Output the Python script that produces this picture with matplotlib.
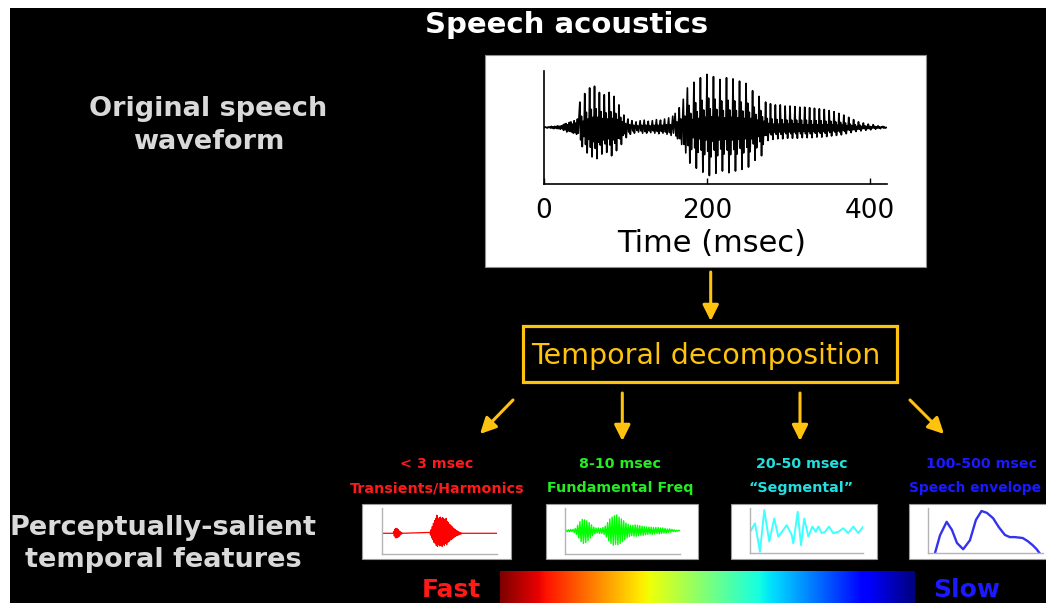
import matplotlib
matplotlib.use("Agg")
import matplotlib.pyplot as plt
import numpy as np
from matplotlib.patches import Rectangle

plt.rcParams["font.family"] = ["DejaVu Sans"]

W, H = 1046, 603

# original speech waveform, one sample per msec
wave_step_ms = 1.0
wave = [
    # 0-22 ms, near silence
    0, 0, .01, 0, -.01, .01, 0, .01, -.01, .02, -.01, .01, -.02, .02, -.01, .02,
    -.02, .03, -.02, .02, -.03, .03, -.02,
    # 23-43 ms
    .04, -.05, .06, -.04, .07, -.08, .05, -.06, .09, -.07, .1, -.08, .06, -.1,
    .12, -.09, .08, -.12, .15, -.1, .2,
    # 44-97 ms, first voiced burst
    .45, -.22, .2, -.34, .11, -.16,
    .6, -.3, .27, -.45, .15, -.21,
    .7, -.35, .32, -.52, .18, -.25,
    .73, -.37, .33, -.55, .18, -.26,
    .62, -.31, .28, -.47, .16, -.22,
    .58, -.29, .26, -.44, .15, -.2,
    .62, -.31, .28, -.5, .16, -.22,
    .55, -.28, .25, -.41, .14, -.19,
    .4, -.2, .18, -.3, .1, -.14,
    # 98-160 ms, low level
    .22, -.11, .07, -.18, .04,
    .15, -.08, .05, -.12, .03,
    .12, -.06, .04, -.1, .02,
    .1, -.05, .03, -.08, .02,
    .12, -.06, .04, -.1, .02,
    .13, -.07, .04, -.1, .03,
    .11, -.06, .03, -.09, .02,
    .12, -.06, .04, -.1, .02,
    .14, -.07, .04, -.11, .03,
    .13, -.07, .04, -.1, .03,
    .15, -.08, .05, -.12, .03,
    .17, -.09, .05, -.14, .03,
    .2, -.1, .08,
    # 161-175 ms, onset
    .25, -.15, .1, -.2, .05, .35, -.2, .15, -.3, .1, .5, -.3, .2, -.45, .15,
    # 176-271 ms, main vowel
    .7, -.32, .39, -.63, .25, -.39, .14, -.18,
    .8, -.36, .44, -.72, .28, -.44, .16, -.2,
    .88, -.4, .48, -.79, .31, -.48, .18, -.22,
    .94, -.42, .52, -.85, .33, -.52, .19, -.24,
    .9, -.4, .5, -.81, .32, -.5, .18, -.22,
    .85, -.38, .47, -.77, .3, -.47, .17, -.21,
    .88, -.4, .48, -.8, .31, -.48, .18, -.22,
    .86, -.39, .47, -.77, .3, -.47, .17, -.21,
    .82, -.37, .45, -.74, .29, -.45, .16, -.2,
    .78, -.35, .43, -.7, .27, -.43, .16, -.2,
    .65, -.29, .36, -.58, .23, -.36, .13, -.16,
    .55, -.25, .3, -.5, .19, -.3, .11, -.14,
    # 272-385 ms, tail
    .45, -.14, .16, -.23, .07, -.09,
    .42, -.13, .15, -.21, .06, -.08,
    .4, -.12, .14, -.2, .06, -.08,
    .4, -.12, .14, -.2, .06, -.08,
    .38, -.11, .13, -.19, .06, -.08,
    .38, -.11, .13, -.19, .06, -.08,
    .37, -.11, .13, -.19, .06, -.07,
    .36, -.11, .13, -.18, .05, -.07,
    .36, -.11, .13, -.18, .05, -.07,
    .35, -.11, .12, -.18, .05, -.07,
    .34, -.1, .12, -.17, .05, -.07,
    .33, -.1, .12, -.17, .05, -.07,
    .32, -.1, .11, -.16, .05, -.06,
    .3, -.09, .11, -.15, .05, -.06,
    .28, -.08, .1, -.14, .04, -.06,
    .25, -.08, .09, -.13, .04, -.05,
    .22, -.07, .08, -.11, .03, -.04,
    .18, -.05, .06, -.09, .03, -.04,
    .14, -.04, .05, -.07, .02, -.03,
    # 386-421 ms, decay
    .1, -.03, .04, -.06, .02, -.02, .08, -.02, .03, -.05, .02, -.02,
    .06, -.02, .02, -.04, .01, -.01, .05, -.01, .02, -.03, .01, -.01,
    .03, -.01, .01, -.02, .01, 0, .02, -.01, .01, -.01, 0, 0,
]
wave_ticks = [0, 200, 400]

# < 3 msec band (x in % of panel width)
red_blob = [0, .04, -.06, .09, -.1, .11, -.1, .1, -.09, .08, -.07, .05, -.04,
            .03, -.02, .01, 0]
red_burst = [.02, -.04, .08, -.1, .15, -.14, .22, -.2, .28, -.22, .33, -.27, .4,
             -.29, .3, -.25, .34, -.28, .36, -.26, .33, -.29, .35, -.24, .32, -.27,
             .3, -.22, .33, -.25, .26, -.2, .24, -.18, .2, -.15, .18, -.14, .15,
             -.12, .12, -.1, .1, -.08, .08, -.06, .06, -.05, .05, -.04, .03, -.03,
             .02, -.02, .01, -.01, 0]

# 8-10 msec band, one value per % of panel width
green_wave = [.01, -.02, .02, -.02, .03, -.02, .03, -.04, .05,
              -.08, .12, -.16, .2, -.24, .25, -.28, .24, -.26, .22, -.22, .18, -.16,
              .13, -.11, .08, -.07,
              .06, -.05, .06, -.06, .05, -.06, .07, -.08, .1,
              -.14, .18, -.22, .26, -.28, .3, -.32, .33, -.3, .35, -.31, .3, -.28,
              .26, -.24, .22, -.2, .17, -.16, .14, -.13, .12, -.11, .12,
              -.12, .13, -.12, .12, -.11, .11, -.1, .1, -.1, .09, -.09, .08, -.08,
              .08, -.07, .08, -.08, .07, -.07, .07, -.06, .07, -.07, .06, -.06,
              .06, -.05, .05, -.05, .04, -.04,
              .04, -.03, .03, -.02, .02, -.02, .01, -.01, .01, 0]

# 20-50 msec band
cyan_x = [0, 4.4, 8.8, 12.6, 17.0, 21.4, 25.0, 32.4, 36.8, 38.2, 42.1, 45.0, 47.9,
          51.5, 55.0, 58.0, 60.3, 63.3, 66.2, 69.7, 73.5, 77.9, 82.3, 86.7, 91.2,
          95.6, 100]
cyan_y = [.47, .66, .02, .96, .25, .77, .36, .62, .40, .21, .92, .17, .77, .36, .59,
          .47, .59, .44, .47, .59, .44, .47, .55, .44, .59, .44, .59]

# 100-500 msec band
blue_x = [5.8, 10.2, 16.0, 20.6, 25.0, 30.4, 36.3, 41.5, 46.4, 51.0, 56.5, 61.5,
          66.7, 71.0, 75.4, 82.3, 86.7, 91.0, 94.5, 97.1]
blue_y = [0, .40, .70, .52, .23, .09, .29, .74, .94, .90, .78, .58, .41, .36, .36,
          .34, .27, .18, .09, 0]

band_ranges = ["< 3 msec", "8-10 msec", "20-50 msec", "100-500 msec"]
band_names = ["Transients/Harmonics", "Fundamental Freq", "\u201cSegmental\u201d",
              "Speech envelope"]
band_text_colors = ["#ff1a1a", "#22ee22", "#22e0e0", "#1a1aff"]

gold = "#ffc20e"
grey_txt = "#d9d9d9"

fig = plt.figure(figsize=(W / 100, H / 100), dpi=100, facecolor="white")


def px_axes(x0, y0, x1, y1):
    return fig.add_axes([x0 / W, 1 - y1 / H, (x1 - x0) / W, (y1 - y0) / H])


# background layer in pixel coordinates
bg = fig.add_axes([0, 0, 1, 1])
bg.set_xlim(0, W)
bg.set_ylim(H, 0)
bg.axis("off")
bg.add_patch(Rectangle((10, 8), W - 10, H - 8, facecolor="black", edgecolor="none"))

bg.text(567, 33, "Speech acoustics", color="white", fontsize=21, fontweight="bold",
        ha="center", va="baseline")
bg.text(208, 116.5, "Original speech", color=grey_txt, fontsize=19.5,
        fontweight="bold", ha="center", va="baseline")
bg.text(209, 149, "waveform", color=grey_txt, fontsize=19.5, fontweight="bold",
        ha="center", va="baseline")
bg.text(163, 535, "Perceptually-salient", color=grey_txt, fontsize=19.5,
        fontweight="bold", ha="center", va="baseline")
bg.text(163, 567, "temporal features", color=grey_txt, fontsize=19.5,
        fontweight="bold", ha="center", va="baseline")

# waveform card
bg.add_patch(Rectangle((485, 55), 441, 212, facecolor="white", edgecolor="#909090",
                       lw=0.8))
bg.text(712, 251.5, "Time (msec)", color="black", fontsize=22, ha="center",
        va="baseline")

# decomposition box and arrows
bg.add_patch(Rectangle((523, 326), 374, 56, facecolor="none", edgecolor=gold, lw=2.3))
bg.text(706, 364, "Temporal decomposition", color=gold, fontsize=20.5, ha="center",
        va="baseline")
arrows = [((710.7, 272), (710.7, 321)),
          ((513, 400), (480, 434)),
          ((622.3, 393), (622.3, 441)),
          ((800, 393), (800, 441)),
          ((910, 400), (944, 434))]
for tail, head in arrows:
    bg.annotate("", xy=head, xytext=tail,
                arrowprops=dict(arrowstyle="-|>,head_length=0.6,head_width=0.3",
                                color=gold, lw=2.2, mutation_scale=16,
                                shrinkA=0, shrinkB=0))

# band labels
label_x = [436.7, 620, 802, 982]
name_x = [436.7, 620, 801, 909]
for i, (rng, name, col) in enumerate(zip(band_ranges, band_names, band_text_colors)):
    bg.text(label_x[i], 468.5, rng, color=col, fontsize=10.3, fontweight="bold",
            ha="center", va="baseline")
    if i == 3:
        bg.text(name_x[i], 492, name, color=col, fontsize=9.9, fontweight="bold",
                ha="left", va="baseline")
    else:
        bg.text(name_x[i], 492, name, color=col, fontsize=10.3,
                fontweight="bold", ha="center", va="baseline")

# small white cards
cards = [(362, 503.5, 511, 558.5), (546, 503.5, 698, 558.5),
         (731, 503.5, 877, 558.5), (909, 503.5, 1070, 558.5)]
for x0, y0, x1, y1 in cards:
    bg.add_patch(Rectangle((x0, y0), x1 - x0, y1 - y0, facecolor="white",
                           edgecolor="#9a9a9a", lw=0.8))

bg.text(451, 597, "Fast", color="#ff1a1a", fontsize=18, fontweight="bold",
        ha="center", va="baseline")
bg.text(967, 597, "Slow", color="#1a1aff", fontsize=18, fontweight="bold",
        ha="center", va="baseline")

# main waveform axes
ax = px_axes(544, 71, 887, 184)
ax.patch.set_alpha(0)
t = np.arange(len(wave)) * wave_step_ms
ax.plot(t, wave, color="black", lw=1.2)
ax.set_xlim(0, t[-1])
ax.set_ylim(-1, 1)
for s in ["top", "right"]:
    ax.spines[s].set_visible(False)
for s in ["left", "bottom"]:
    ax.spines[s].set_color("black")
    ax.spines[s].set_linewidth(1.2)
ax.set_yticks([])
ax.set_xticks(wave_ticks)
ax.tick_params(axis="x", direction="in", length=4, width=1, labelsize=19, pad=10,
               colors="black")


def small_panel(x0, y0, x1, y1):
    a = px_axes(x0, y0, x1, y1)
    a.patch.set_alpha(0)
    for s in ["top", "right"]:
        a.spines[s].set_visible(False)
    for s in ["left", "bottom"]:
        a.spines[s].set_color("#b4b4b4")
        a.spines[s].set_linewidth(1.0)
    a.set_xticks([])
    a.set_yticks([])
    a.set_xlim(0, 100)
    return a


# < 3 msec
ax_r = small_panel(381.7, 508.3, 496.7, 553.5)
red_x = ([0] + list(np.linspace(10, 18, len(red_blob)))
         + list(np.linspace(42, 70, len(red_burst))) + [100])
red_y = [0] + red_blob + red_burst + [0]
ax_r.plot(red_x, red_y, color="#ff0000", lw=0.9)
ax_r.set_ylim(-0.447, 0.553)

# 8-10 msec
ax_g = small_panel(565, 508.3, 680, 553.5)
ax_g.plot(np.arange(1, len(green_wave) + 1), green_wave, color="#00ff00", lw=1.0)
ax_g.set_ylim(-0.504, 0.496)

# 20-50 msec
ax_c = small_panel(750, 508.3, 863.3, 552.7)
ax_c.plot(cyan_x, cyan_y, color="#40ffff", lw=1.4, solid_joinstyle="round")
ax_c.set_ylim(0, 1)

# 100-500 msec
ax_b = small_panel(928.3, 508.3, 1043, 553.3)
ax_b.plot(blue_x, blue_y, color="#3333ee", lw=1.7, solid_joinstyle="round")
ax_b.set_ylim(0, 1)

# fast -> slow colour bar
cax = px_axes(500, 571, 915, 603)
cax.imshow(np.linspace(0, 1, 256)[None, :], cmap="jet_r", aspect="auto")
cax.set_xticks([])
cax.set_yticks([])
for s in cax.spines.values():
    s.set_visible(False)

fig.savefig("out.png", dpi=100, facecolor=fig.get_facecolor())
